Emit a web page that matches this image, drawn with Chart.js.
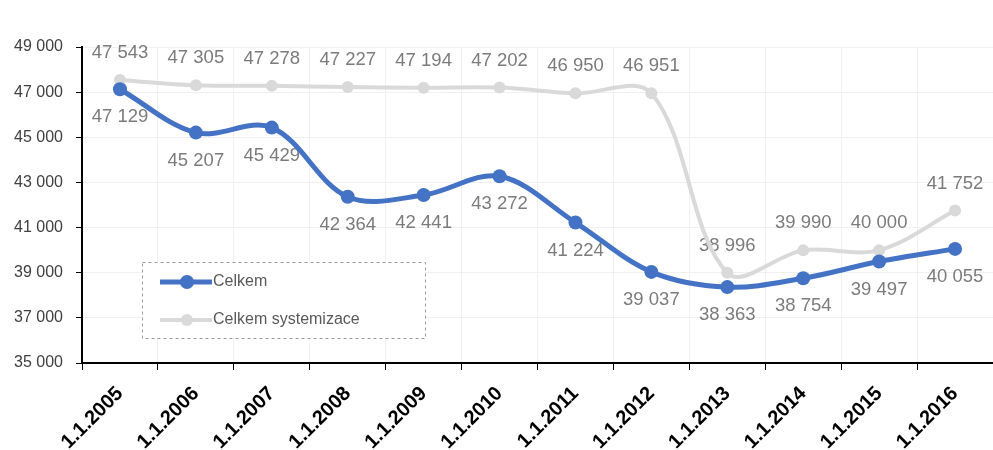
<!DOCTYPE html>
<html>
<head>
<meta charset="utf-8">
<script src="https://cdn.jsdelivr.net/npm/chart.js@4.4.1/dist/chart.umd.min.js"></script>
<style>
    html, body { margin: 0; padding: 0; background: #fff; }
    #wrap { position: relative; width: 993px; height: 450px; }
</style>
</head>
<body>
<div id="wrap"><canvas id="chart" width="993" height="450"></canvas></div>
<script>
const years = ['1.1.2005', '1.1.2006', '1.1.2007', '1.1.2008', '1.1.2009', '1.1.2010',
               '1.1.2011', '1.1.2012', '1.1.2013', '1.1.2014', '1.1.2015', '1.1.2016'];
const celkem = [47129, 45207, 45429, 42364, 42441, 43272, 41224, 39037, 38363, 38754, 39497, 40055];
const systemizace = [47543, 47305, 47278, 47227, 47194, 47202, 46950, 46951, 38996, 39990, 40000, 41752];
const yMin = 35000;
const yMax = 49000;
const yStep = 2000;

const FONT = '"Liberation Sans", Arial, sans-serif';

// 47543 -> "47 543"
const fmt = v => String(v).replace(/\B(?=(\d{3})+(?!\d))/g, ' ');

// value labels under the lines: Celkem below its points, systemizace above
const valueLabels = {
    id: 'valueLabels',
    beforeDatasetsDraw(chart) {
        const ctx = chart.ctx;
        ctx.save();
        ctx.font = '18.5px ' + FONT;
        ctx.fillStyle = '#7b7b7b';
        ctx.textAlign = 'center';
        ctx.textBaseline = 'middle';
        chart.data.datasets.forEach((ds, i) => {
            const meta = chart.getDatasetMeta(i);
            const dy = ds.labelSide === 'above' ? -27 : 28;
            meta.data.forEach((pt, j) => {
                ctx.fillText(fmt(ds.data[j]), pt.x, pt.y + dy);
            });
        });
        ctx.restore();
    }
};

// boxed legend with a dashed frame, inside the plot
const boxLegend = {
    id: 'boxLegend',
    afterDatasetsDraw(chart) {
        const ctx = chart.ctx;
        const x = 142, y = 262, w = 283, h = 76;
        ctx.save();
        ctx.fillStyle = '#fff';
        ctx.fillRect(x, y, w, h);
        ctx.setLineDash([3, 3]);
        ctx.strokeStyle = '#9a9a9a';
        ctx.lineWidth = 1;
        ctx.strokeRect(x + 0.5, y + 0.5, w, h);
        ctx.setLineDash([]);
        ctx.font = '16px ' + FONT;
        ctx.textBaseline = 'middle';
        chart.data.datasets.forEach((ds, i) => {
            const cy = y + 20 + i * 38;
            ctx.strokeStyle = ds.borderColor;
            ctx.lineWidth = ds.borderWidth;
            ctx.beginPath();
            ctx.moveTo(x + 18, cy);
            ctx.lineTo(x + 70, cy);
            ctx.stroke();
            ctx.fillStyle = ds.pointBackgroundColor;
            ctx.beginPath();
            ctx.arc(x + 45, cy, ds.pointRadius, 0, Math.PI * 2);
            ctx.fill();
            ctx.fillStyle = '#595959';
            ctx.fillText(ds.label, x + 71, cy);
        });
        ctx.restore();
    }
};

new Chart(document.getElementById('chart'), {
    type: 'line',
    data: {
        labels: years,
        datasets: [
            {
                label: 'Celkem',
                data: celkem,
                labelSide: 'below',
                borderColor: '#4472c4',
                backgroundColor: '#4472c4',
                pointBackgroundColor: '#4472c4',
                pointBorderWidth: 0,
                pointRadius: 7,
                borderWidth: 5,
                tension: 0.35,
            },
            {
                label: 'Celkem systemizace',
                data: systemizace,
                labelSide: 'above',
                borderColor: '#d9d9d9',
                backgroundColor: '#d9d9d9',
                pointBackgroundColor: '#d9d9d9',
                pointBorderWidth: 0,
                pointRadius: 6,
                borderWidth: 4,
                tension: 0.35,
            },
        ],
    },
    options: {
        responsive: false,
        animation: false,
        layout: { autoPadding: false, padding: { top: 47, right: 0, left: 0, bottom: 0 } },
        plugins: {
            legend: { display: false },
            tooltip: { enabled: false },
        },
        scales: {
            x: {
                offset: true,
                grid: { offset: true, color: '#f0f0f0', tickColor: '#000', tickLength: 7 },
                border: { color: '#000', width: 2 },
                ticks: {
                    color: '#000',
                    font: { family: FONT, size: 20, weight: 'bold' },
                    maxRotation: 45,
                    minRotation: 45,
                    padding: 12,
                },
                afterFit: s => {
                    s.height = 87;
                    // the axis runs to the right edge of the canvas
                    s.paddingRight = 0;
                },
            },
            y: {
                min: yMin,
                max: yMax,
                grid: { color: '#f0f0f0', tickColor: '#000', tickLength: 6 },
                border: { color: '#000', width: 2 },
                ticks: {
                    stepSize: yStep,
                    color: '#404040',
                    font: { family: FONT, size: 16 },
                    padding: 13,
                    callback: v => fmt(v),
                },
                afterFit: s => { s.width = 82; },
            },
        },
    },
    plugins: [valueLabels, boxLegend],
});
</script>
</body>
</html>
